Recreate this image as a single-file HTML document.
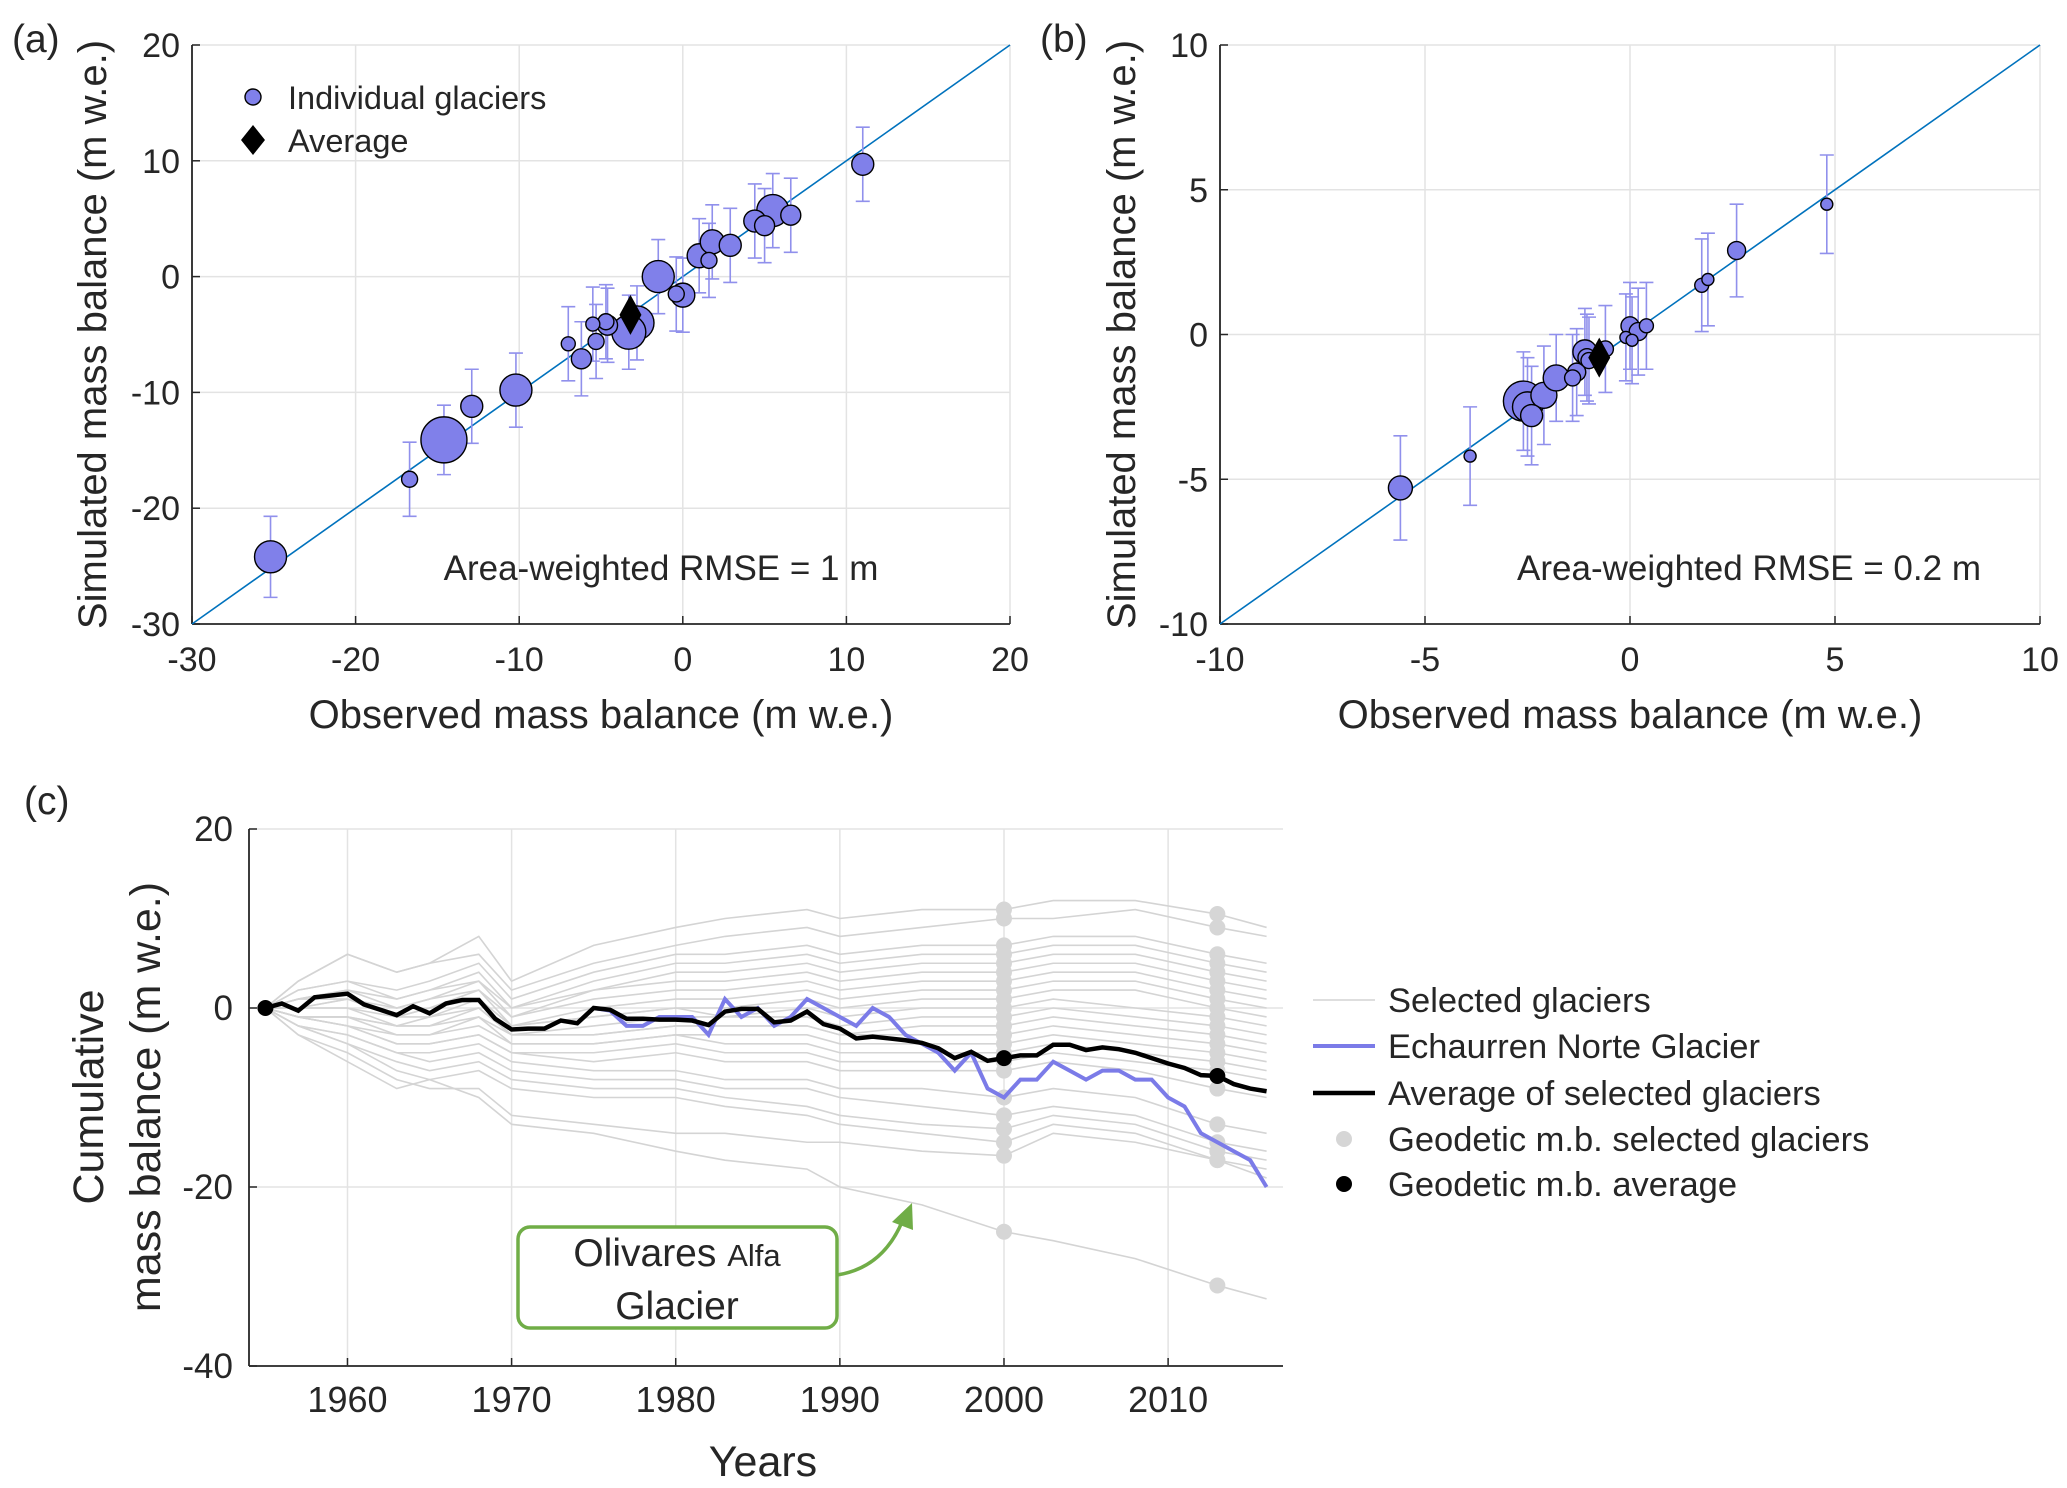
<!DOCTYPE html>
<html><head><meta charset="utf-8"><style>
html,body{margin:0;padding:0;background:#fff}
svg{display:block}
text{font-family:"Liberation Sans",sans-serif;fill:#262626}
</style></head><body>
<svg id="fig" width="2067" height="1488" viewBox="0 0 2067 1488" xmlns="http://www.w3.org/2000/svg"></svg>
<script>
// ---------- Panel (a) data ----------
const aObs = [-25.2,-16.7,-14.6,-12.9,-10.2,-7,-6.2,-5.3,-5.5,-4.7,-4.6,-2.8,-3.3,-1.5,-0.4,0,1.0,1.6,1.8,2.9,4.4,5,5.5,6.6,11];
const aSim = [-24.2,-17.5,-14.1,-11.2,-9.8,-5.8,-7.1,-5.6,-4.1,-3.9,-4.2,-4,-4.8,0,-1.5,-1.6,1.8,1.4,3,2.7,4.8,4.4,5.7,5.3,9.7];
const aSize = [16,8,23,11,16,7,10,8,7,8,10,17,17,16,8,12,12,8,12,11,11,10,16,10,11];
const aErr = [3.5,3.2,3,3.2,3.2,3.2,3.2,3.2,3.2,3.2,3.2,3.2,3.2,3.2,3.2,3.2,3.2,3.2,3.2,3.2,3.2,3.2,3.2,3.2,3.2];
const aAvg = [-3.2,-3.3];
const aTicks = [-30,-20,-10,0,10,20];
// ---------- Panel (b) data ----------
const bObs = [-5.6,-3.9,-2.6,-2.5,-2.4,-2.1,-1.8,-1.4,-1.3,-1.1,-1.05,-1.0,-0.6,-0.1,0,0.05,0.2,0.4,1.75,1.9,2.6,4.8];
const bSim = [-5.3,-4.2,-2.3,-2.5,-2.8,-2.1,-1.5,-1.5,-1.3,-0.6,-0.8,-0.9,-0.5,-0.1,0.3,-0.2,0.1,0.3,1.7,1.9,2.9,4.5];
const bSize = [12,6,20,15,11,13,13,8,9,12,9,8,8,6,9,6,9,7,7,6,9,6];
const bErr = [1.8,1.7,1.7,1.7,1.7,1.7,1.5,1.5,1.5,1.5,1.5,1.5,1.5,1.5,1.5,1.5,1.5,1.5,1.6,1.6,1.6,1.7];
const bAvg = [-0.75,-0.8];
const bTicks = [-10,-5,0,5,10];
// ---------- Panel (c) data ----------
const years = [];
for (let y=1955;y<=2016;y++) years.push(y);
const avgSeries = [0,0.5,-0.3,1.2,1.4,1.6,0.4,-0.2,-0.8,0.2,-0.6,0.5,0.9,0.9,-1.2,-2.4,-2.3,-2.3,-1.4,-1.7,0,-0.2,-1.2,-1.2,-1.3,-1.3,-1.4,-1.9,-0.4,-0.1,-0.1,-1.6,-1.4,-0.4,-1.8,-2.3,-3.4,-3.2,-3.4,-3.6,-3.9,-4.5,-5.6,-4.9,-5.9,-5.6,-5.3,-5.3,-4.1,-4.1,-4.7,-4.4,-4.6,-5.0,-5.6,-6.2,-6.7,-7.5,-7.6,-8.5,-9.0,-9.3];
const echYears = [1975,1976,1977,1978,1979,1980,1981,1982,1983,1984,1985,1986,1987,1988,1989,1990,1991,1992,1993,1994,1995,1996,1997,1998,1999,2000,2001,2002,2003,2004,2005,2006,2007,2008,2009,2010,2011,2012,2013,2014,2015,2016];
const echSeries = [0,-0.3,-2,-2,-1,-1,-1,-3,1,-1,0,-2,-1,1,0,-1,-2,0,-1,-3,-4,-5,-7,-5,-9,-10,-8,-8,-6,-7,-8,-7,-7,-8,-8,-10,-11,-14,-15,-16,-17,-20];
const grayYears = [1955,1957,1960,1963,1965,1968,1970,1975,1980,1983,1988,1990,1995,2000,2003,2008,2013,2016];
const grayLines = [
 [0,3,6,4,5,8,3,7,9,10,11,10,11,11,12,12,10.5,9],
 [0,3,6,4,5,6,2,5,7,8,9,8,9,10,10,11,9,8],
 [0,2,3,2,3,5,1,4,6,6,7,6,7,7,8,8,6,5],
 [0,2,3,1,2,4,0,3,5,5,6,5,6,6,7,7,5,4],
 [0,1,2,1,2,3,0,2,4,4,5,4,5,5,6,6,4,3],
 [0,1,2,0,1,3,-1,2,3,3,4,3,4,4,5,5,3,2],
 [0,1,1,0,1,2,-1,1,2,2,3,2,3,3,4,4,2,1],
 [0,0,1,-1,0,2,-2,0,1,1,2,1,2,2,3,3,1,0],
 [0,0,1,-1,0,1,-2,-1,0,0,1,0,1,1,2,2,0,-1],
 [0,0,0,-1,-1,1,-2,-1,0,-1,0,-1,0,0,1,0,-1,-2],
 [0,0,0,-2,-1,0,-3,-2,-1,-1,-1,-2,-1,-1,0,-1,-2,-3],
 [0,-1,-1,-2,-2,0,-3,-3,-2,-2,-2,-3,-2,-2,-1,-2,-3,-4],
 [0,-1,-1,-2,-2,-1,-3,-3,-2,-2,-2,-3,-3,-3,-2,-3,-4,-5],
 [0,-1,-1,-3,-3,-1,-4,-4,-3,-3,-3,-4,-4,-4,-3,-4,-5,-6],
 [0,-1,-2,-3,-3,-2,-4,-4,-3,-4,-4,-5,-5,-5,-4,-5,-6,-7],
 [0,-1,-2,-4,-4,-3,-5,-5,-4,-5,-5,-6,-6,-6,-5,-6,-7,-8],
 [0,-1,-2,-4,-4,-3,-5,-6,-5,-6,-6,-7,-7,-7,-6,-7,-9,-10],
 [0,-2,-3,-5,-5,-4,-6,-7,-7,-8,-8,-9,-9,-10,-9,-10,-13,-14],
 [0,-2,-3,-5,-6,-5,-7,-8,-8,-9,-9,-10,-11,-12,-11,-12,-15,-16],
 [0,-2,-4,-6,-7,-6,-8,-9,-9,-10,-11,-12,-13,-13.5,-12,-13,-16,-17],
 [0,-2,-4,-7,-8,-7,-9,-10,-10,-11,-12,-13,-14,-15,-13,-14,-17,-18],
 [0,-3,-5,-8,-9,-9,-12,-13,-14,-14,-15,-15,-16,-16.5,-14,-15,-17,-19],
 [0,-3,-6,-9,-8,-10,-13,-14,-16,-17,-18,-20,-22,-25,-26,-28,-31,-32.5]
];
const geoYears = [2000,2013];
const geoAvg = [-5.6,-7.6];
const cXTicks = [1960,1970,1980,1990,2000,2010];
const cYTicks = [-40,-20,0,20];

const NS="http://www.w3.org/2000/svg";
const svg=document.getElementById('fig');
function el(tag,attrs,parent,txt){const e=document.createElementNS(NS,tag);for(const k in attrs)e.setAttribute(k,attrs[k]);if(txt!==undefined)e.textContent=txt;(parent||svg).appendChild(e);return e;}

function scatterPanel(id,L,R,T,B,min,max,ticks,obs,sim,size,err,avg,rmse,rmseX,labelX,ylabX){
  const g=el('g',{});
  
  
  const sx=v=>L+(v-min)/(max-min)*(R-L);
  const sy=v=>B-(v-min)/(max-min)*(B-T);
  ticks.forEach(t=>{
    const gx=el('line',{x1:sx(t),x2:sx(t),y1:T,y2:B,stroke:'#e3e3e3','stroke-width':1.5},g);
    
    const gy=el('line',{x1:L,x2:R,y1:sy(t),y2:sy(t),stroke:'#e3e3e3','stroke-width':1.5},g);
    
    el('line',{x1:sx(t),x2:sx(t),y1:B,y2:B-8,stroke:'#262626','stroke-width':1.5},g);
    el('line',{x1:L,x2:L+8,y1:sy(t),y2:sy(t),stroke:'#262626','stroke-width':1.5},g);
    const tx=el('text',{x:sx(t),y:B+47,'text-anchor':'middle','font-size':34},g,String(t));
    
    const ty=el('text',{x:L-12,y:sy(t)+12,'text-anchor':'end','font-size':34},g,String(t));
    
  });
  el('line',{x1:L,x2:R,y1:B,y2:B,stroke:'#262626','stroke-width':1.8},g);
  el('line',{x1:L,x2:L,y1:T,y2:B,stroke:'#262626','stroke-width':1.8},g);
  const d=el('line',{x1:sx(min),y1:sy(min),x2:sx(max),y2:sy(max),stroke:'#0072bd','stroke-width':1.6},g);
  
  obs.forEach((o,i)=>{
    const x=sx(o),y1=sy(sim[i]-err[i]),y2=sy(sim[i]+err[i]);
    const eb=el('path',{d:`M${x},${y1}V${y2}M${x-7},${y1}H${x+7}M${x-7},${y2}H${x+7}`,stroke:'#9090ec','stroke-width':1.6,fill:'none'},g);
    
  });
  const order=obs.map((_,i)=>i).sort((a,b)=>size[b]-size[a]);
  order.forEach(i=>{
    const c=el('circle',{cx:sx(obs[i]),cy:sy(sim[i]),r:size[i],fill:'#8080ea',stroke:'#000','stroke-width':1.4},g);
    
  });
  const ax=sx(avg[0]),ay=sy(avg[1]);
  const dm=el('path',{d:`M${ax},${ay-20}L${ax+11},${ay}L${ax},${ay+20}L${ax-11},${ay}Z`,fill:'#000'},g);
  
  const rt=el('text',{x:rmseX,y:580,'text-anchor':'middle','font-size':35,fill:'#000'},g,rmse);
  
  const xt=el('text',{x:(L+R)/2,y:728,'text-anchor':'middle','font-size':40},g,'Observed mass balance (m w.e.)');
  
  const yt=el('text',{x:0,y:0,'text-anchor':'middle','font-size':40,transform:`translate(${ylabX},${(T+B)/2}) rotate(-90)`},g,'Simulated mass balance (m w.e.)');
  
  const pl=el('text',{x:labelX,y:52,'font-size':39,fill:'#000'},g,'('+id+')');
  
}
scatterPanel('a',192,1010,45,624,-30,20,aTicks,aObs,aSim,aSize,aErr,aAvg,'Area-weighted RMSE = 1 m',661,12,106);
scatterPanel('b',1220,2040,45,624,-10,10,bTicks,bObs,bSim,bSize,bErr,bAvg,'Area-weighted RMSE = 0.2 m',1749,1040,1135);

// legend (a)
{
 const g=el('g',{});
 const c=el('circle',{cx:253,cy:97,r:8,fill:'#8080ea',stroke:'#000','stroke-width':1.4},g);
 
 const t1=el('text',{x:288,y:109,'font-size':32.5,fill:'#000'},g,'Individual glaciers');
 
 const dm=el('path',{d:'M253,125L265,140L253,155L241,140Z',fill:'#000'},g);
 
 const t2=el('text',{x:288,y:152,'font-size':32.5,fill:'#000'},g,'Average');
 
}

// ---------- Panel (c) ----------
{
 const L=249,R=1283,T=829,B=1366,x0=1954,x1=2017,y0=-40,y1=20;
 const sx=v=>L+(v-x0)/(x1-x0)*(R-L);
 const sy=v=>B-(v-y0)/(y1-y0)*(B-T);
 const g=el('g',{});
 cXTicks.forEach(t=>{
  const gx=el('line',{x1:sx(t),x2:sx(t),y1:T,y2:B,stroke:'#e3e3e3','stroke-width':1.5},g);
  
  el('line',{x1:sx(t),x2:sx(t),y1:B,y2:B-8,stroke:'#262626','stroke-width':1.5},g);
  const tx=el('text',{x:sx(t),y:B+46,'text-anchor':'middle','font-size':36},g,String(t));
  
 });
 cYTicks.forEach(t=>{
  const gy=el('line',{x1:L,x2:R,y1:sy(t),y2:sy(t),stroke:'#e3e3e3','stroke-width':1.5},g);
  
  el('line',{x1:L,x2:L+8,y1:sy(t),y2:sy(t),stroke:'#262626','stroke-width':1.5},g);
  const ty=el('text',{x:L-16,y:sy(t)+12,'text-anchor':'end','font-size':35},g,String(t));
  
 });
 el('line',{x1:L,x2:R,y1:B,y2:B,stroke:'#262626','stroke-width':1.8},g);
 el('line',{x1:L,x2:L,y1:T,y2:B,stroke:'#262626','stroke-width':1.8},g);
 grayLines.forEach(vals=>{
  const p=el('polyline',{points:vals.map((v,i)=>sx(grayYears[i])+','+sy(v)).join(' '),fill:'none',stroke:'#d4d4d4','stroke-width':1.6},g);
  
 });
 grayLines.forEach(vals=>{
  geoYears.forEach(gy=>{
   const idx=grayYears.indexOf(gy);
   const c=el('circle',{cx:sx(gy),cy:sy(vals[idx]),r:8,fill:'#d6d6d6'},g);
   
  });
 });
 const ech=el('polyline',{points:echSeries.map((v,i)=>sx(echYears[i])+','+sy(v)).join(' '),fill:'none',stroke:'#7b7be8','stroke-width':4},g);
 
 const av=el('polyline',{points:avgSeries.map((v,i)=>sx(years[i])+','+sy(v)).join(' '),fill:'none',stroke:'#000','stroke-width':4.5},g);
 
 const c0=el('circle',{cx:sx(years[0]),cy:sy(avgSeries[0]),r:8,fill:'#000'},g);
 
 geoYears.forEach((gy,i)=>{
  const c=el('circle',{cx:sx(gy),cy:sy(geoAvg[i]),r:8,fill:'#000'},g);
  
 });
 const xt=el('text',{x:763,y:1476,'text-anchor':'middle','font-size':43},g,'Years');
 
 const yt1=el('text',{x:0,y:0,'text-anchor':'middle','font-size':43,transform:`translate(103,1097) rotate(-90)`},g,'Cumulative');
 
 const yt2=el('text',{x:0,y:0,'text-anchor':'middle','font-size':43,transform:`translate(160,1097) rotate(-90)`},g,'mass balance (m w.e.)');
 
 const pl=el('text',{x:24,y:814,'font-size':39,fill:'#000'},g,'(c)');
 
 // annotation
 const box=el('rect',{x:518,y:1227,width:319,height:101,rx:12,fill:'#fff',stroke:'#70ad47','stroke-width':3.5},g);
 
 const at1=el('text',{x:677,y:1266,'text-anchor':'middle','font-size':39,fill:'#000'},g);
 
 el('tspan',{},at1,'Olivares ');
 el('tspan',{'font-size':31},at1,'Alfa');
 const at2=el('text',{x:677,y:1319,'text-anchor':'middle','font-size':39,fill:'#000'},g,'Glacier');
 
 const ar=el('path',{d:'M837,1275 C870,1270 890,1250 902,1222',fill:'none',stroke:'#70ad47','stroke-width':3.5},g);
 
 const ah=el('path',{d:'M912,1203 L913,1230 L892,1222 Z',fill:'#70ad47'},g);
 
 // legend c
 const lg=el('g',{});
 const rows=[1000,1046,1093,1139,1184];
 const labels=['Selected glaciers','Echaurren Norte Glacier','Average of selected glaciers','Geodetic m.b. selected glaciers','Geodetic m.b. average'];
 el('line',{x1:1313,x2:1375,y1:rows[0],y2:rows[0],stroke:'#d4d4d4','stroke-width':1.6},lg);
 el('line',{x1:1313,x2:1375,y1:rows[1],y2:rows[1],stroke:'#7b7be8','stroke-width':4},lg);
 el('line',{x1:1313,x2:1375,y1:rows[2],y2:rows[2],stroke:'#000','stroke-width':4.5},lg);
 el('circle',{cx:1344,cy:rows[3],r:8,fill:'#d6d6d6'},lg);
 el('circle',{cx:1344,cy:rows[4],r:8,fill:'#000'},lg);
 labels.forEach((s,i)=>{
  const t=el('text',{x:1388,y:rows[i]+12,'font-size':34.5,fill:'#000'},lg,s);
  
 });
}
</script>
</body></html>
